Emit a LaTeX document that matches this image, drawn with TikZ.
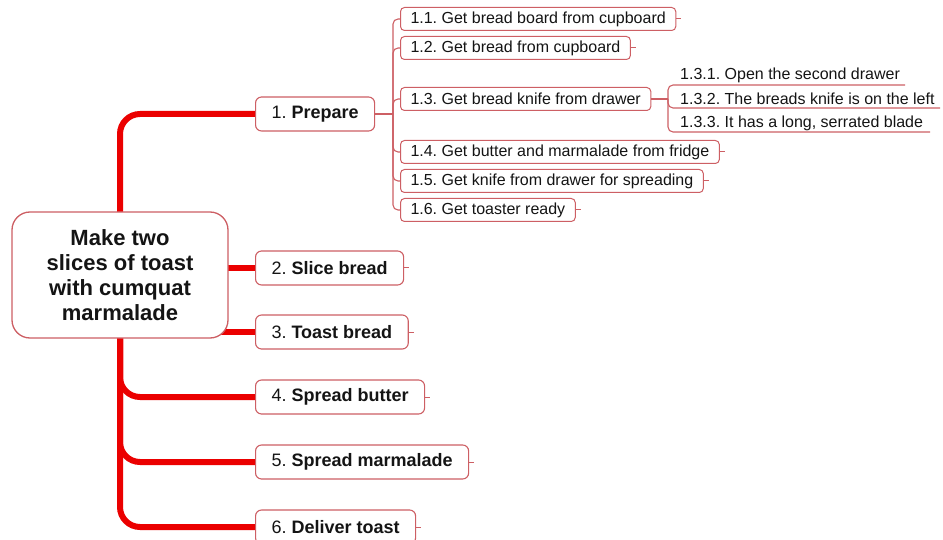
\documentclass[tikz,border=0pt]{standalone}
\usepackage{fontspec}
\setmainfont{Liberation Sans}
\frenchspacing
\pgfdeclarelayer{bg}
\pgfsetlayers{bg,main}
\definecolor{trunkred}{RGB}{235,0,0}
\definecolor{boxred}{RGB}{205,95,100}
\definecolor{ink}{RGB}{20,20,20}
\tikzset{
 rootbox/.style={draw=boxred, line width=1.3pt, rounded corners=18pt, fill=white, align=center, text=ink,
   font=\fontsize{22}{25}\selectfont\bfseries, minimum width=216pt, minimum height=126pt, inner sep=0pt},
 lonebox/.style={draw=boxred, line width=1.1pt, rounded corners=6pt, fill=white, anchor=west, text=ink,
   minimum height=34pt, inner xsep=16pt, inner ysep=0pt, font=\fontsize{18}{20}\selectfont},
 ltwobox/.style={draw=boxred, line width=1pt, rounded corners=4pt, fill=white, anchor=west, text=ink,
   minimum height=23pt, inner xsep=10pt, inner ysep=0pt, font=\fontsize{16}{18}\selectfont},
 lthree/.style={anchor=west, inner sep=0pt, text=ink, font=\fontsize{16}{18}\selectfont},
 trunk/.style={draw=trunkred, line width=6pt, rounded corners=20pt},
 twig/.style={draw=boxred, line width=1.1pt, rounded corners=5pt},
 stub/.style={draw=boxred, line width=1pt},
}
\begin{document}
\begin{tikzpicture}[x=1pt,y=-1pt]
\useasboundingbox (0,0) rectangle (943,540);

% root
\node[rootbox] (root) at (120,275) {Make two\\slices of toast\\with cumquat\\marmalade};

% level 1
\node[lonebox] (n1) at (255,114) {1. \textbf{Prepare}};
\node[lonebox] (n2) at (255,268) {2. \textbf{Slice bread}};
\node[lonebox] (n3) at (255,332) {3. \textbf{Toast bread}};
\node[lonebox] (n4) at (255,397) {4. \textbf{Spread butter}};
\node[lonebox] (n5) at (255,462) {5. \textbf{Spread marmalade}};
\node[lonebox] (n6) at (255,527) {6. \textbf{Deliver toast}};

% level 2
\node[ltwobox] (c11) at (400,19)  {1.1. Get bread board from cupboard};
\node[ltwobox] (c12) at (400,48)  {1.2. Get bread from cupboard};
\node[ltwobox] (c13) at (400,99)  {1.3. Get bread knife from drawer};
\node[ltwobox] (c14) at (400,152) {1.4. Get butter and marmalade from fridge};
\node[ltwobox] (c15) at (400,181) {1.5. Get knife from drawer for spreading};
\node[ltwobox] (c16) at (400,210) {1.6. Get toaster ready};

% level 3
\node[lthree] (d1) at (680,75)  {1.3.1. Open the second drawer};
\node[lthree] (d2) at (680,99)  {1.3.2. The breads knife is on the left};
\node[lthree] (d3) at (680,123) {1.3.3. It has a long, serrated blade};

\coordinate (j1) at (393,114);
\coordinate (j13) at (668,99);
\coordinate (u1) at (905,85);
\coordinate (u2) at (940,108);
\coordinate (u3) at (930,132);

\begin{pgfonlayer}{bg}
 \draw[trunk] (n1.west) -| (root.center);
 \draw[trunk] (root.center) |- (n4.west);
 \draw[trunk] (root.center) |- (n5.west);
 \draw[trunk] (root.center) |- (n6.west);
 \draw[trunk] (root.center |- n2.west) -- (n2.west);
 \draw[trunk] (root.center |- n3.west) -- (n3.west);

 \draw[twig] (n1.east) -- (j1);
 \foreach \c in {c11,c12,c13,c14,c15,c16} \draw[twig] (j1) |- (\c.west);

 \draw[twig] (c13.east) -- (j13);
 \draw[twig] (j13) |- (u1);
 \draw[twig] (j13) |- (u2);
 \draw[twig] (j13) |- (u3);

 \foreach \b in {n2,n3,n4,n5,n6,c11,c12,c14,c15,c16} \draw[stub] (\b.east) -- ++(5,0);
\end{pgfonlayer}
\end{tikzpicture}
\end{document}
